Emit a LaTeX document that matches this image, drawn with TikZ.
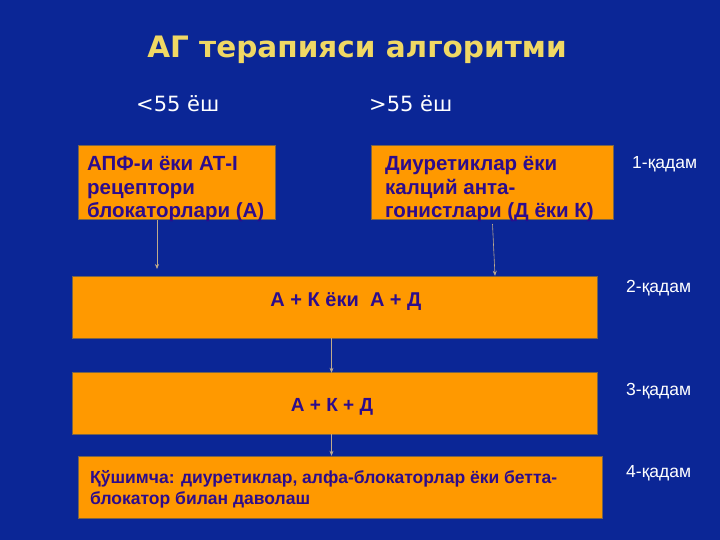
\documentclass[tikz,border=0pt]{standalone}
\usepackage{fontspec}
\setmainfont{Liberation Sans}
\newfontfamily\titlefont{DejaVu Sans}
\usetikzlibrary{arrows.meta}
\definecolor{bgblue}{RGB}{11,38,150}
\definecolor{boxorange}{RGB}{255,153,0}
\definecolor{boxedge}{RGB}{120,100,75}
\definecolor{boxtext}{RGB}{45,12,140}
\definecolor{titleyellow}{RGB}{240,216,100}
\definecolor{arrowgrey}{RGB}{190,170,140}
\tikzset{
  stepbox/.style={draw=boxedge, line width=1pt, fill=boxorange},
  boxlabel/.style={text=boxtext, font=\bfseries\fontsize{20.5}{23.5}\selectfont, align=left, inner sep=0pt, anchor=base west},
  steplabel/.style={text=white, font=\fontsize{17.5}{20}\selectfont, anchor=base west, inner sep=0pt},
  agelabel/.style={text=white, font=\titlefont\fontsize{21}{24}\selectfont, anchor=base west, inner sep=0pt},
  flow/.style={draw=arrowgrey, line width=0.6pt, -{Stealth[length=5pt,width=4pt]}}
}
\begin{document}
\begin{tikzpicture}[x=1pt,y=-1pt]
\fill[bgblue] (0,0) rectangle (720,540);
\useasboundingbox (0,0) rectangle (720,540);
% title
\node[text=titleyellow, font=\titlefont\bfseries\fontsize{29.5}{34}\selectfont, anchor=base] (title) at (357,58) {АГ терапияси алгоритми};
% ages
\node[agelabel] (age1) at (136,112) {<55 ёш};
\node[agelabel] (age2) at (369,112) {>55 ёш};
% boxes (last-line baselines used for multi-line labels)
\path[stepbox] (78,146) rectangle (275,220);
\node[inner sep=0pt, minimum width=197pt, minimum height=74pt] (boxA) at (176.5,183) {};
\node[boxlabel] at (87,218) {АПФ-и ёки АТ-I\\рецептори\\блокаторлари (А)};
\path[stepbox] (371,146) rectangle (613,220);
\node[inner sep=0pt, minimum width=242pt, minimum height=74pt] (boxB) at (492,183) {};
\node[boxlabel] at (385,218) {Диуретиклар ёки\\калций анта-\\гонистлари (Д ёки К)};
\path[stepbox] (72,276) rectangle (597,338);
\node[inner sep=0pt, minimum width=525pt, minimum height=62pt] (box2) at (334.5,307) {};
\node[text=boxtext, font=\bfseries\fontsize{20}{24}\selectfont, anchor=base] at (346,306) {А + К ёки\ \ А + Д};
\path[stepbox] (72,372) rectangle (597,434);
\node[inner sep=0pt, minimum width=525pt, minimum height=62pt] (box3) at (334.5,403) {};
\node[text=boxtext, font=\bfseries\fontsize{19}{24}\selectfont, anchor=base] at (332,411) {А + К + Д};
\path[stepbox] (78,456) rectangle (602,518);
\node[inner sep=0pt, minimum width=524pt, minimum height=62pt] (box4) at (340,487) {};
\node[boxlabel, font=\bfseries\fontsize{17.5}{20.6}\selectfont] at (90,504) {Қўшимча: диуретиклар, алфа-блокаторлар ёки бетта-\\блокатор билан даволаш};
% step labels
\node[steplabel] (s1) at (632,169) {1-қадам};
\node[steplabel] (s2) at (626,292) {2-қадам};
\node[steplabel] (s3) at (626,395) {3-қадам};
\node[steplabel] (s4) at (626,477.5) {4-қадам};
% arrows
\coordinate (a1) at (157,269);
\draw[flow] (boxA.south -| a1) -- (a1);
\coordinate (b0) at (492.5,224);
\draw[flow] (b0) -- (box2.north -| 495,0);
\draw[flow] (box2.south -| 331.5,0) -- ([yshift=-1pt]box3.north -| 331.5,0);
\draw[flow] (box3.south -| 331.5,0) -- (box4.north -| 331.5,0);
\end{tikzpicture}
\end{document}
